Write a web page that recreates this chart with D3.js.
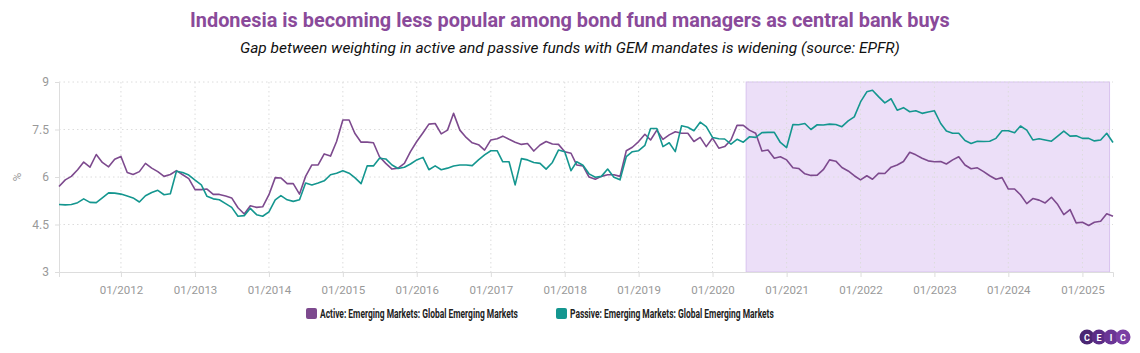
<!doctype html>
<html lang="en">
<head>
<meta charset="utf-8">
<title>Indonesia bond fund weighting</title>
<script src="https://d3js.org/d3.v7.min.js"></script>
<style>
  body { margin: 0; background: #fff; }
  text { font-family: Roboto, "Noto Sans", sans-serif; }
</style>
</head>
<body>
<script>
// monthly series, first point 03/2011, last 06/2025
const startMonth = "2011-03";
const active = [
  5.70, 5.91, 6.02, 6.23, 6.47, 6.31, 6.71, 6.46, 6.32, 6.56, 6.65, 6.14, 6.08, 6.17, 6.43, 6.28,
  6.17, 6.02, 6.08, 6.20, 6.07, 5.95, 5.60, 5.60, 5.62, 5.45, 5.45, 5.40, 5.34, 5.03, 4.83, 5.09,
  5.04, 5.06, 5.44, 5.98, 5.97, 5.79, 5.79, 5.46, 6.02, 6.38, 6.38, 6.73, 6.66, 7.12, 7.80, 7.80,
  7.38, 7.10, 7.10, 7.08, 6.64, 6.43, 6.25, 6.28, 6.43, 6.80, 7.12, 7.40, 7.67, 7.69, 7.36, 7.48,
  8.01, 7.48, 7.25, 7.08, 7.02, 6.85, 7.17, 7.21, 7.29, 7.19, 7.10, 7.03, 7.06, 6.82, 7.01, 7.12,
  7.04, 7.03, 6.80, 6.75, 6.38, 6.35, 6.00, 5.93, 6.02, 6.07, 6.07, 6.02, 6.83, 6.94, 7.12, 7.35,
  7.17, 7.48, 7.19, 7.33, 7.43, 7.38, 7.38, 7.12, 7.25, 6.96, 7.23, 6.91, 6.96, 7.17, 7.63, 7.63,
  7.48, 7.38, 6.82, 6.85, 6.59, 6.64, 6.54, 6.29, 6.27, 6.10, 6.05, 6.06, 6.23, 6.54, 6.50, 6.30,
  6.19, 6.04, 5.91, 6.04, 5.93, 6.12, 6.11, 6.31, 6.38, 6.49, 6.78, 6.70, 6.59, 6.51, 6.48, 6.49,
  6.41, 6.54, 6.64, 6.38, 6.26, 6.29, 6.17, 6.04, 5.93, 5.98, 5.62, 5.62, 5.44, 5.16, 5.32, 5.27,
  5.18, 5.36, 5.13, 4.81, 4.97, 4.55, 4.57, 4.47, 4.57, 4.60, 4.84, 4.76
];
const passive = [
  5.13, 5.12, 5.13, 5.19, 5.31, 5.20, 5.19, 5.34, 5.50, 5.49, 5.46, 5.40, 5.34, 5.21, 5.41, 5.51,
  5.58, 5.44, 5.47, 6.18, 6.14, 6.06, 5.90, 5.75, 5.39, 5.31, 5.28, 5.16, 5.04, 4.76, 4.78, 5.01,
  4.81, 4.76, 4.90, 5.28, 5.41, 5.28, 5.23, 5.28, 5.81, 5.75, 5.81, 5.88, 6.07, 6.12, 6.20, 6.12,
  5.98, 5.79, 6.35, 6.35, 6.59, 6.57, 6.38, 6.27, 6.31, 6.41, 6.54, 6.62, 6.23, 6.35, 6.23, 6.28,
  6.35, 6.38, 6.38, 6.36, 6.54, 6.70, 6.83, 6.83, 6.48, 6.48, 5.75, 6.58, 6.54, 6.46, 6.43, 6.25,
  6.46, 6.85, 6.80, 6.20, 6.48, 6.37, 6.10, 5.99, 6.02, 6.25, 5.99, 5.91, 6.64, 6.80, 6.83, 7.00,
  7.53, 7.53, 6.96, 7.08, 6.80, 7.62, 7.57, 7.46, 7.73, 7.59, 7.25, 7.21, 7.20, 7.04, 7.19, 7.10,
  7.27, 7.25, 7.40, 7.41, 7.41, 7.09, 6.93, 7.66, 7.65, 7.69, 7.50, 7.65, 7.64, 7.67, 7.66, 7.59,
  7.77, 7.90, 8.37, 8.69, 8.74, 8.53, 8.34, 8.47, 8.11, 8.19, 8.06, 8.09, 8.01, 8.05, 8.09, 7.69,
  7.45, 7.38, 7.38, 7.15, 7.06, 7.13, 7.12, 7.13, 7.22, 7.46, 7.46, 7.40, 7.61, 7.48, 7.17, 7.21,
  7.17, 7.13, 7.29, 7.45, 7.29, 7.30, 7.22, 7.22, 7.14, 7.17, 7.38, 7.09
];
const yTicks = [3, 4.5, 6, 7.5, 9];
const xTickYears = [2012, 2013, 2014, 2015, 2016, 2017, 2018, 2019, 2020, 2021, 2022, 2023, 2024, 2025];
const bandStart = "2020-06-15";
const bandEnd = "2025-05-15";
const seriesNames = ["Active: Emerging Markets: Global Emerging Markets",
                     "Passive: Emerging Markets: Global Emerging Markets"];
const colors = ["#7d4a8e", "#14968f"];

const width = 1140, height = 353;
const parseMonth = d3.timeParse("%Y-%m");
const t0 = parseMonth(startMonth);
const dates = active.map((d, i) => d3.timeMonth.offset(t0, i));

const svg = d3.select("body").append("svg")
    .attr("width", width)
    .attr("height", height);

// squeeze a text horizontally so it spans w pixels (narrow font look)
function fitText(sel, x0, y0, w, anchor) {
  const natural = sel.node().getComputedTextLength();
  const sx = w / natural;
  const left = anchor === "middle" ? x0 - w / 2 : x0;
  sel.attr("text-anchor", "start")
     .attr("transform", "translate(" + left + "," + y0 + ") scale(" + sx + ",1)");
}

// titles
const title = svg.append("text")
    .attr("font-size", 20).attr("font-weight", "bold")
    .attr("fill", "#8a4a9a")
    .text("Indonesia is becoming less popular among bond fund managers as central bank buys");
fitText(title, 570, 27, 760, "middle");
const subtitle = svg.append("text")
    .attr("font-size", 14.5).attr("font-style", "italic")
    .attr("fill", "#111")
    .text("Gap between weighting in active and passive funds with GEM mandates is widening (source: EPFR)");
fitText(subtitle, 570, 53, 660, "middle");

// scales
const x = d3.scaleTime()
    .domain([dates[0], dates[dates.length - 1]])
    .range([59, 1113]);
const y = d3.scaleLinear()
    .domain([3, 9])
    .range([272, 82]);

const xTickDates = xTickYears.map(yr => new Date(yr, 0, 1));

// highlighted band
svg.append("rect")
    .attr("x", x(new Date(bandStart)))
    .attr("y", y(9))
    .attr("width", x(new Date(bandEnd)) - x(new Date(bandStart)))
    .attr("height", y(3) - y(9))
    .attr("fill", "#ecdff8")
    .attr("stroke", "#d8c3ef")
    .attr("stroke-width", 1);

// gridlines
svg.append("g")
    .selectAll("line")
    .data(yTicks.filter(d => d > 3))
    .enter().append("line")
    .attr("x1", 59).attr("x2", 1113)
    .attr("y1", d => y(d)).attr("y2", d => y(d))
    .attr("stroke", "#dcdcdc")
    .attr("stroke-dasharray", "1.5,3");
svg.append("g")
    .selectAll("line")
    .data(xTickDates)
    .enter().append("line")
    .attr("x1", d => x(d)).attr("x2", d => x(d))
    .attr("y1", y(9)).attr("y2", y(3))
    .attr("stroke", "#dcdcdc")
    .attr("stroke-dasharray", "1.5,3");

// axes
const yAxis = d3.axisLeft(y).tickValues(yTicks).tickFormat(d3.format("~g"))
    .tickSize(4).tickPadding(6);
const gy = svg.append("g")
    .attr("transform", "translate(59,0)")
    .call(yAxis);
gy.select(".domain").attr("stroke", "#dddddd");
gy.selectAll(".tick line").attr("stroke", "#dddddd");
gy.selectAll(".tick text").attr("fill", "#999").attr("font-size", 12)
    .attr("font-family", "Roboto, sans-serif");

const xAxis = d3.axisBottom(x).tickValues(xTickDates)
    .tickFormat(d3.timeFormat("%m/%Y")).tickSize(5).tickPadding(9);
const gx = svg.append("g")
    .attr("transform", "translate(0,272)")
    .call(xAxis);
gx.select(".domain").attr("stroke", "#dddddd");
gx.selectAll(".tick line").attr("stroke", "#dddddd");
gx.selectAll(".tick text").attr("fill", "#999").attr("font-size", 11.5)
    .attr("font-family", "Roboto, sans-serif");

svg.append("text")
    .attr("transform", "translate(21,177) rotate(-90)")
    .attr("text-anchor", "middle")
    .attr("font-size", 11.5).attr("fill", "#999")
    .text("%");

// lines
const line = d3.line()
    .x((d, i) => x(dates[i]))
    .y(d => y(d));
[active, passive].forEach((s, k) => {
  svg.append("path")
      .datum(s)
      .attr("fill", "none")
      .attr("stroke", colors[k])
      .attr("stroke-width", 1.6)
      .attr("stroke-linejoin", "round")
      .attr("d", line);
});

// legend
const legendX = [306, 556];
const legendW = [198, 204];
seriesNames.forEach((name, k) => {
  svg.append("rect")
      .attr("x", legendX[k]).attr("y", 308)
      .attr("width", 11).attr("height", 11)
      .attr("rx", 2)
      .attr("fill", colors[k]);
  const t = svg.append("text")
      .attr("font-size", 12.5).attr("font-weight", "bold")
      .attr("fill", "#222")
      .text(name);
  fitText(t, legendX[k] + 14, 318, legendW[k], "start");
});

// CEIC logo
const logo = svg.append("g").attr("transform", "translate(1087,337)");
["C", "E", "I", "C"].forEach((ch, i) => {
  logo.append("circle")
      .attr("cx", i * 12).attr("cy", 0).attr("r", 7.5)
      .attr("fill", ["#4a2672", "#5b2d86", "#6a3595", "#7a3ea3"][i]);
  logo.append("text")
      .attr("x", i * 12).attr("y", 3.5)
      .attr("text-anchor", "middle")
      .attr("font-size", 9).attr("font-weight", "bold")
      .attr("fill", "#fff")
      .text(ch);
});
</script>
</body>
</html>
